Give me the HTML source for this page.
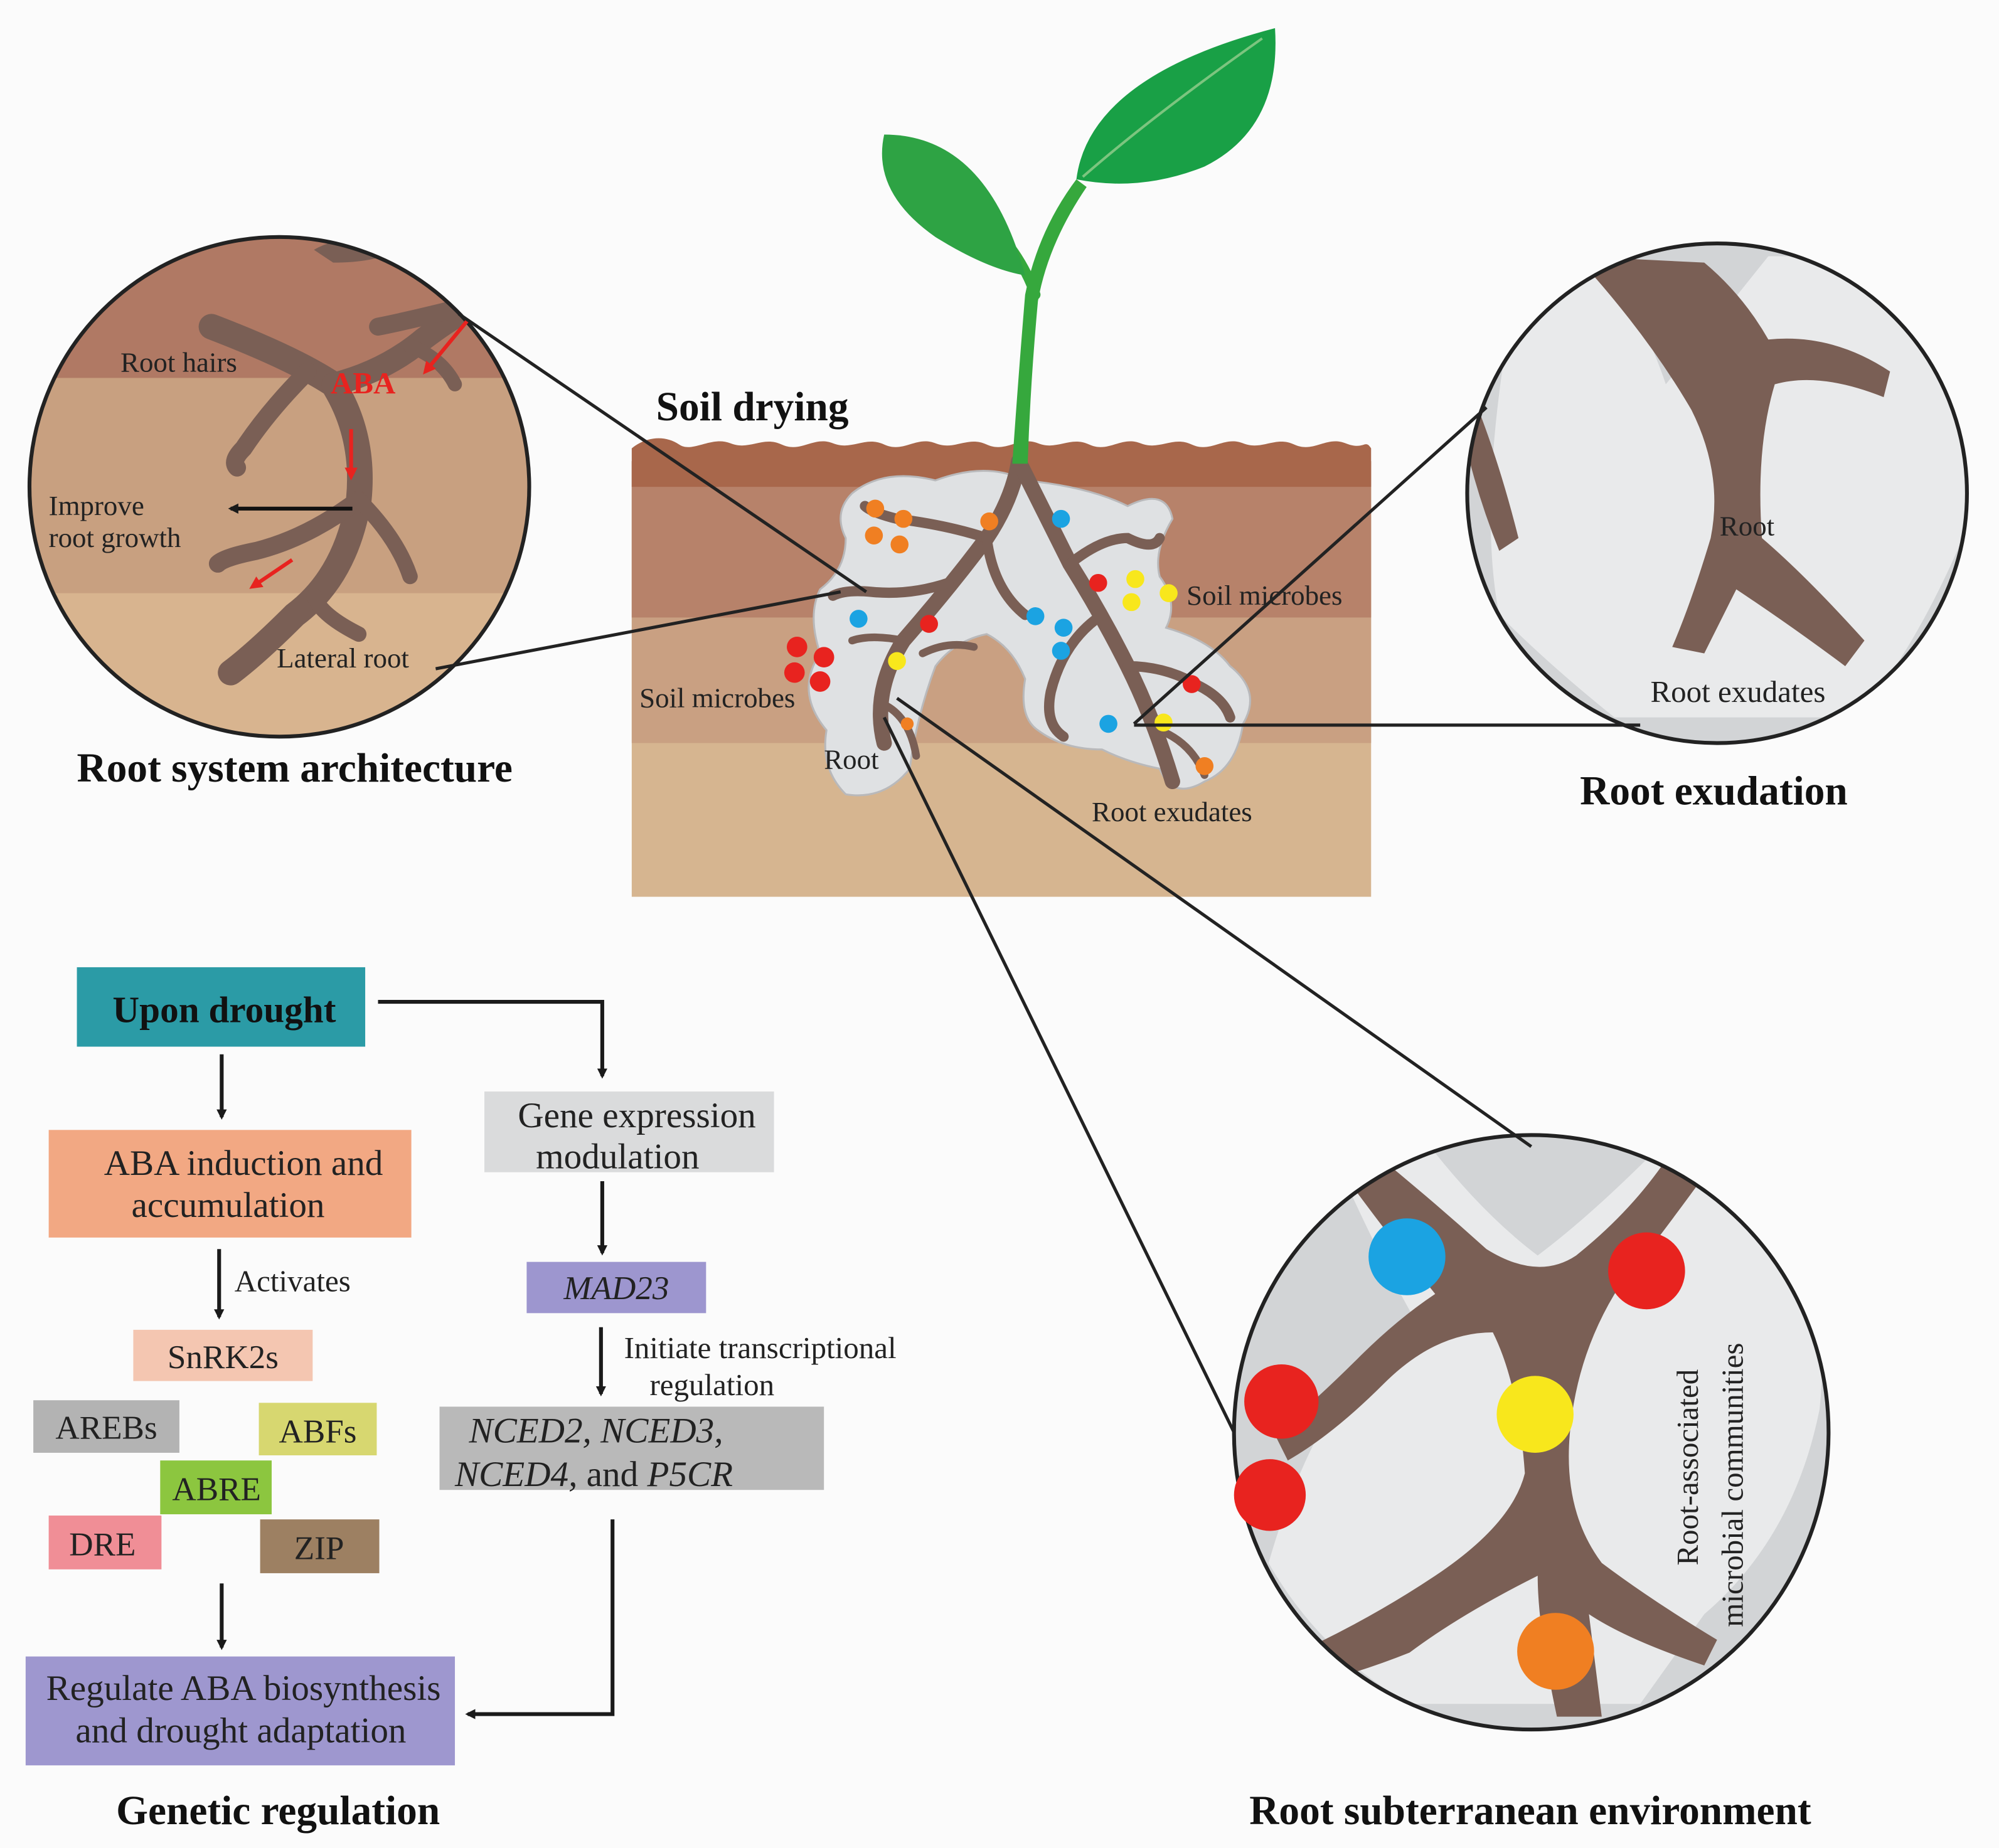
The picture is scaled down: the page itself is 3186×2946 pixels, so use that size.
<!DOCTYPE html>
<html><head><meta charset="utf-8"><style>
html,body{margin:0;padding:0;background:#fbfbfb;}
svg{display:block;}
text{font-family:"Liberation Serif",serif;}
</style></head><body>
<svg width="3186" height="2946" viewBox="0 0 1560 1442.5" xmlns="http://www.w3.org/2000/svg">
<defs>
<marker id="ah" markerWidth="8" markerHeight="8" refX="6" refY="4" orient="auto" markerUnits="userSpaceOnUse"><path d="M0,0 L8,4 L0,8 z" fill="#1a1a1a"/></marker>
<marker id="ahr" markerWidth="10" markerHeight="10" refX="7" refY="5" orient="auto" markerUnits="userSpaceOnUse"><path d="M0,0 L10,5 L0,10 z" fill="#e8231f"/></marker>
<clipPath id="c1"><circle cx="218" cy="380" r="195"/></clipPath>
<clipPath id="c2"><circle cx="1340" cy="385" r="195"/></clipPath>
<clipPath id="c3"><circle cx="1195" cy="1118" r="232"/></clipPath>
</defs>
<rect width="1560" height="1442.5" fill="#fbfbfb"/>

<!-- Soil box -->
<rect x="493" y="360" width="577" height="340" fill="#d6b590"/>
<rect x="493" y="360" width="577" height="220" fill="#c9a082"/>
<rect x="493" y="360" width="577" height="122" fill="#b7826a"/>
<path d="M493,350 C505,340 520,340 530,347 S555,340 570,346 S595,340 610,347 S635,340 650,346 S675,340 690,347 S715,340 730,346 S755,340 770,347 S795,340 810,346 S835,340 850,347 S875,340 890,346 S915,340 930,347 S955,340 970,346 S995,340 1010,347 S1035,340 1050,346 S1065,342 1070,350 L1070,380 L493,380 Z" fill="#a8674b"/>
<!-- white pocket -->
<path d="M665,385 Q690,365 730,375 Q770,360 800,375 Q850,380 880,395 Q910,380 915,405 Q900,430 905,450 Q920,470 910,490 Q945,500 960,520 Q985,540 970,565 Q965,600 940,610 Q915,625 905,600 Q880,595 860,585 Q830,585 810,570 Q795,560 800,530 Q790,505 770,495 Q745,500 730,520 Q715,560 710,600 Q690,625 660,620 Q640,600 645,570 Q620,540 640,510 Q630,480 640,460 Q660,445 660,420 Q650,400 665,385 Z" fill="#dfe1e3" stroke="#b9b9bb" stroke-width="1.5"/>
<!-- roots in soil -->
<g stroke="#7a5f55" stroke-linecap="round" fill="none">
<path d="M795,360 Q790,390 770,420 Q740,460 705,500 Q680,540 690,580" stroke-width="12"/>
<path d="M795,360 Q815,400 835,440 Q860,480 880,520 Q900,560 915,610" stroke-width="12"/>
<path d="M770,420 Q740,410 700,405 Q680,400 675,395" stroke-width="8"/>
<path d="M740,455 Q710,465 680,462 Q660,460 650,465" stroke-width="8"/>
<path d="M770,420 Q775,460 800,480" stroke-width="8"/>
<path d="M835,440 Q860,420 880,420 Q900,430 905,420" stroke-width="8"/>
<path d="M860,480 Q830,500 820,540 Q815,565 830,575" stroke-width="8"/>
<path d="M880,520 Q910,520 935,535 Q955,545 960,560" stroke-width="8"/>
<path d="M905,570 Q930,580 940,605" stroke-width="6"/>
<path d="M705,500 Q680,495 665,500" stroke-width="6"/>
<path d="M690,550 Q710,560 715,590" stroke-width="6"/>
<path d="M720,510 Q740,500 760,505" stroke-width="6"/>
</g>
<!-- dots -->
<g>
<circle cx="683" cy="397" r="7" fill="#f07f22"/><circle cx="705" cy="405" r="7" fill="#f07f22"/><circle cx="682" cy="418" r="7" fill="#f07f22"/><circle cx="702" cy="425" r="7" fill="#f07f22"/><circle cx="772" cy="407" r="7" fill="#f07f22"/>
<circle cx="828" cy="405" r="7" fill="#1ba3e2"/><circle cx="670" cy="483" r="7" fill="#1ba3e2"/><circle cx="808" cy="481" r="7" fill="#1ba3e2"/><circle cx="830" cy="490" r="7" fill="#1ba3e2"/><circle cx="828" cy="508" r="7" fill="#1ba3e2"/><circle cx="865" cy="565" r="7" fill="#1ba3e2"/>
<circle cx="857" cy="455" r="7" fill="#e8231f"/><circle cx="725" cy="487" r="7" fill="#e8231f"/><circle cx="622" cy="505" r="8" fill="#e8231f"/><circle cx="643" cy="513" r="8" fill="#e8231f"/><circle cx="620" cy="525" r="8" fill="#e8231f"/><circle cx="640" cy="532" r="8" fill="#e8231f"/><circle cx="930" cy="534" r="7" fill="#e8231f"/>
<circle cx="886" cy="452" r="7" fill="#f8e71c"/><circle cx="912" cy="463" r="7" fill="#f8e71c"/><circle cx="883" cy="470" r="7" fill="#f8e71c"/><circle cx="700" cy="516" r="7" fill="#f8e71c"/><circle cx="908" cy="564" r="7" fill="#f8e71c"/>
<circle cx="708" cy="565" r="5" fill="#f07f22"/><circle cx="940" cy="598" r="7" fill="#f07f22"/>
</g>
<!-- Plant -->
<path d="M790,362 Q795,290 800,230 Q810,180 840,140 L848,146 Q818,190 810,235 Q804,300 802,362 Z" fill="#36a83d"/>
<path d="M808,230 Q790,180 740,150" stroke="#36a83d" stroke-width="8" fill="none" stroke-linecap="round"/>
<path d="M800,215 Q770,105 690,105 Q680,150 730,185 Q770,210 800,215 Z" fill="#2ea344"/>
<path d="M840,140 Q850,60 995,22 Q1000,100 940,130 Q890,150 840,140 Z" fill="#19a046"/>
<path d="M845,138 Q900,90 985,30" stroke="#7cc57f" stroke-width="2" fill="none"/>

<!-- Left circle -->
<g clip-path="url(#c1)">
<rect x="0" y="180" width="420" height="400" fill="#d8b48f"/>
<rect x="0" y="180" width="420" height="283" fill="#c8a080"/>
<rect x="0" y="180" width="420" height="115" fill="#b07964"/>
<g stroke="#7a5f55" stroke-linecap="round" fill="none">
<path d="M165,255 Q230,280 260,300 Q285,340 280,390 Q270,450 230,480 Q200,510 180,525" stroke-width="20"/>
<path d="M260,300 Q300,290 330,265 Q350,250 360,245" stroke-width="18"/>
<path d="M240,290 Q210,320 190,350 Q180,360 185,365" stroke-width="14"/>
<path d="M280,390 Q240,420 200,430 Q175,435 170,440" stroke-width="14"/>
<path d="M280,390 Q310,420 320,450" stroke-width="12"/>
<path d="M245,465 Q250,480 280,495" stroke-width="12"/>
<path d="M320,270 Q345,280 355,300" stroke-width="11"/>
<path d="M295,255 Q320,250 360,240" stroke-width="14"/>
</g>
<path d="M245,195 Q270,180 320,190 Q300,205 260,205 Z" fill="#7a5f55"/>
</g>
<circle cx="218" cy="380" r="195" fill="none" stroke="#222" stroke-width="3"/>
<line x1="365" y1="250" x2="332" y2="290" stroke="#e8231f" stroke-width="3" marker-end="url(#ahr)"/>
<line x1="274" y1="335" x2="274" y2="372" stroke="#e8231f" stroke-width="3" marker-end="url(#ahr)"/>
<line x1="228" y1="437" x2="197" y2="458" stroke="#e8231f" stroke-width="3" marker-end="url(#ahr)"/>
<line x1="275" y1="397" x2="180" y2="397" stroke="#111" stroke-width="3" marker-end="url(#ah)"/>
<text x="94" y="290" font-size="22" fill="#222">Root hairs</text>
<text x="258" y="307" font-size="24" font-weight="bold" fill="#e8231f">ABA</text>
<text x="38" y="402" font-size="22" fill="#222">Improve</text>
<text x="38" y="427" font-size="22" fill="#222">root growth</text>
<text x="216" y="521" font-size="22" fill="#222">Lateral root</text>
<text x="60" y="610" font-size="32" font-weight="bold" fill="#111">Root system architecture</text>
<line x1="358" y1="245" x2="676" y2="462" stroke="#222" stroke-width="2.5"/>
<line x1="340" y1="522" x2="656" y2="462" stroke="#222" stroke-width="2.5"/>

<!-- Right top circle -->
<g clip-path="url(#c2)">
<rect x="1140" y="185" width="400" height="400" fill="#d2d4d6"/>
<path d="M1190,190 L1240,190 Q1280,240 1300,300 L1380,200 L1480,200 Q1530,280 1540,400 Q1500,500 1450,560 L1260,560 Q1210,520 1170,480 Q1150,380 1190,190 Z" fill="#e9eaeb"/>
<path d="M1230,200 Q1285,260 1320,320 Q1345,370 1335,420 Q1320,470 1305,505 L1330,510 Q1345,480 1355,460 Q1400,490 1440,520 L1455,500 Q1410,450 1375,420 Q1370,350 1385,300 Q1420,290 1470,310 L1475,290 Q1430,260 1380,265 Q1360,230 1330,205 Z" fill="#7a5f55"/>
<path d="M1150,310 Q1170,360 1185,420 L1170,430 Q1150,380 1140,330 Z" fill="#7a5f55"/>
</g>
<circle cx="1340" cy="385" r="195" fill="none" stroke="#222" stroke-width="3"/>
<text x="1342" y="418" font-size="22" fill="#222">Root</text>
<text x="1288" y="548" font-size="24" fill="#222">Root exudates</text>
<text x="1233" y="628" font-size="32" font-weight="bold" fill="#111">Root exudation</text>
<line x1="1160" y1="318" x2="885" y2="565" stroke="#222" stroke-width="2.5"/>
<line x1="1280" y1="566" x2="885" y2="566" stroke="#222" stroke-width="2.5"/>

<!-- Bottom right circle -->
<g clip-path="url(#c3)">
<rect x="960" y="880" width="470" height="470" fill="#d2d4d6"/>
<path d="M1040,900 L1120,900 Q1160,950 1200,980 Q1240,950 1290,900 L1400,900 Q1430,1000 1420,1100 Q1400,1200 1330,1260 L1280,1330 L1100,1330 Q1030,1290 990,1220 Q1010,1150 1040,1100 Q1080,1060 1110,1040 Q1080,990 1040,900 Z" fill="#e9eaeb"/>
<path d="M1060,890 Q1110,930 1160,975 Q1200,1000 1230,980 Q1280,940 1310,890 L1350,890 Q1300,960 1260,1010 Q1230,1060 1225,1120 Q1220,1180 1250,1220 Q1290,1250 1340,1280 L1330,1300 Q1270,1280 1240,1260 L1250,1340 L1215,1340 Q1200,1270 1200,1230 Q1140,1260 1100,1290 Q1050,1310 1000,1320 L990,1300 Q1060,1270 1120,1230 Q1180,1190 1190,1150 Q1185,1080 1165,1040 Q1120,1040 1080,1080 Q1040,1120 1005,1140 L995,1120 Q1030,1090 1060,1060 Q1090,1030 1120,1010 Q1080,960 1040,905 Z" fill="#7a5f55"/>
</g>
<circle cx="1195" cy="1118" r="232" fill="none" stroke="#222" stroke-width="3"/>
<circle cx="1098" cy="981" r="30" fill="#1ba3e2"/>
<circle cx="1285" cy="992" r="30" fill="#e8231f"/>
<circle cx="1000" cy="1094" r="29" fill="#e8231f"/>
<circle cx="991" cy="1167" r="28" fill="#e8231f"/>
<circle cx="1198" cy="1104" r="30" fill="#f8e71c"/>
<circle cx="1214" cy="1289" r="30" fill="#f07f22"/>
<text transform="translate(1325,1222) rotate(-90)" font-size="24" fill="#222">Root-associated</text>
<text transform="translate(1360,1270) rotate(-90)" font-size="24" fill="#222">microbial communities</text>
<text x="975" y="1424" font-size="32" font-weight="bold" fill="#111">Root subterranean environment</text>
<line x1="700" y1="545" x2="1195" y2="895" stroke="#222" stroke-width="2.5"/>
<line x1="690" y1="560" x2="963" y2="1118" stroke="#222" stroke-width="2.5"/>

<!-- Soil labels -->
<text x="512" y="328" font-size="32" font-weight="bold" fill="#111">Soil drying</text>
<text x="926" y="472" font-size="22" fill="#222">Soil microbes</text>
<text x="499" y="552" font-size="22" fill="#222">Soil microbes</text>
<text x="643" y="600" font-size="22" fill="#222">Root</text>
<text x="852" y="641" font-size="22" fill="#222">Root exudates</text>

<!-- Flowchart -->
<rect x="60" y="755" width="225" height="62" fill="#2b9ba6"/>
<text x="175" y="798" font-size="29" font-weight="bold" text-anchor="middle" fill="#111">Upon drought</text>
<rect x="38" y="882" width="283" height="84" fill="#f2a883"/>
<text x="190" y="917" font-size="28" text-anchor="middle" fill="#222">ABA induction and</text>
<text x="178" y="950" font-size="28" text-anchor="middle" fill="#222">accumulation</text>
<rect x="378" y="852" width="226" height="63" fill="#dadbdc"/>
<text x="497" y="880" font-size="28" text-anchor="middle" fill="#222">Gene expression</text>
<text x="482" y="912" font-size="28" text-anchor="middle" fill="#222">modulation</text>
<rect x="411" y="985" width="140" height="40" fill="#9d96cf"/>
<text x="481" y="1014" font-size="26" font-style="italic" text-anchor="middle" fill="#222">MAD23</text>
<rect x="104" y="1038" width="140" height="40" fill="#f4c6b1"/>
<text x="174" y="1068" font-size="26" text-anchor="middle" fill="#222">SnRK2s</text>
<rect x="26" y="1093" width="114" height="41" fill="#b3b3b3"/>
<text x="83" y="1123" font-size="26" text-anchor="middle" fill="#222">AREBs</text>
<rect x="202" y="1095" width="92" height="41" fill="#d7d770"/>
<text x="248" y="1126" font-size="26" text-anchor="middle" fill="#222">ABFs</text>
<rect x="125" y="1140" width="87" height="42" fill="#8cc63f"/>
<text x="169" y="1171" font-size="26" text-anchor="middle" fill="#222">ABRE</text>
<rect x="38" y="1183" width="88" height="42" fill="#f08e96"/>
<text x="80" y="1214" font-size="26" text-anchor="middle" fill="#222">DRE</text>
<rect x="203" y="1186" width="93" height="42" fill="#9d8062"/>
<text x="249" y="1217" font-size="26" text-anchor="middle" fill="#222">ZIP</text>
<rect x="343" y="1098" width="300" height="65" fill="#b9b9b9"/>
<text x="366" y="1126" font-size="28" font-style="italic" fill="#222">NCED2,  NCED3,</text>
<text x="355" y="1160" font-size="28" fill="#222"><tspan font-style="italic">NCED4,</tspan> and  <tspan font-style="italic">P5CR</tspan></text>
<rect x="20" y="1293" width="335" height="85" fill="#9e97cf"/>
<text x="190" y="1327" font-size="28" text-anchor="middle" fill="#222">Regulate ABA biosynthesis</text>
<text x="188" y="1360" font-size="28" text-anchor="middle" fill="#222">and drought adaptation</text>
<text x="217" y="1424" font-size="32" font-weight="bold" text-anchor="middle" fill="#111">Genetic regulation</text>
<text x="183" y="1008" font-size="24" fill="#222">Activates</text>
<text x="487" y="1060" font-size="24" fill="#222">Initiate transcriptional</text>
<text x="507" y="1089" font-size="24" fill="#222">regulation</text>

<g stroke="#1a1a1a" stroke-width="3" fill="none">
<line x1="173" y1="823" x2="173" y2="872" marker-end="url(#ah)"/>
<polyline points="295,782 470,782 470,840" marker-end="url(#ah)"/>
<line x1="470" y1="922" x2="470" y2="978" marker-end="url(#ah)"/>
<line x1="171" y1="975" x2="171" y2="1028" marker-end="url(#ah)"/>
<line x1="469" y1="1036" x2="469" y2="1088" marker-end="url(#ah)"/>
<line x1="173" y1="1236" x2="173" y2="1286" marker-end="url(#ah)"/>
<polyline points="478,1186 478,1338 365,1338" marker-end="url(#ah)"/>
</g>
</svg>
</body></html>
